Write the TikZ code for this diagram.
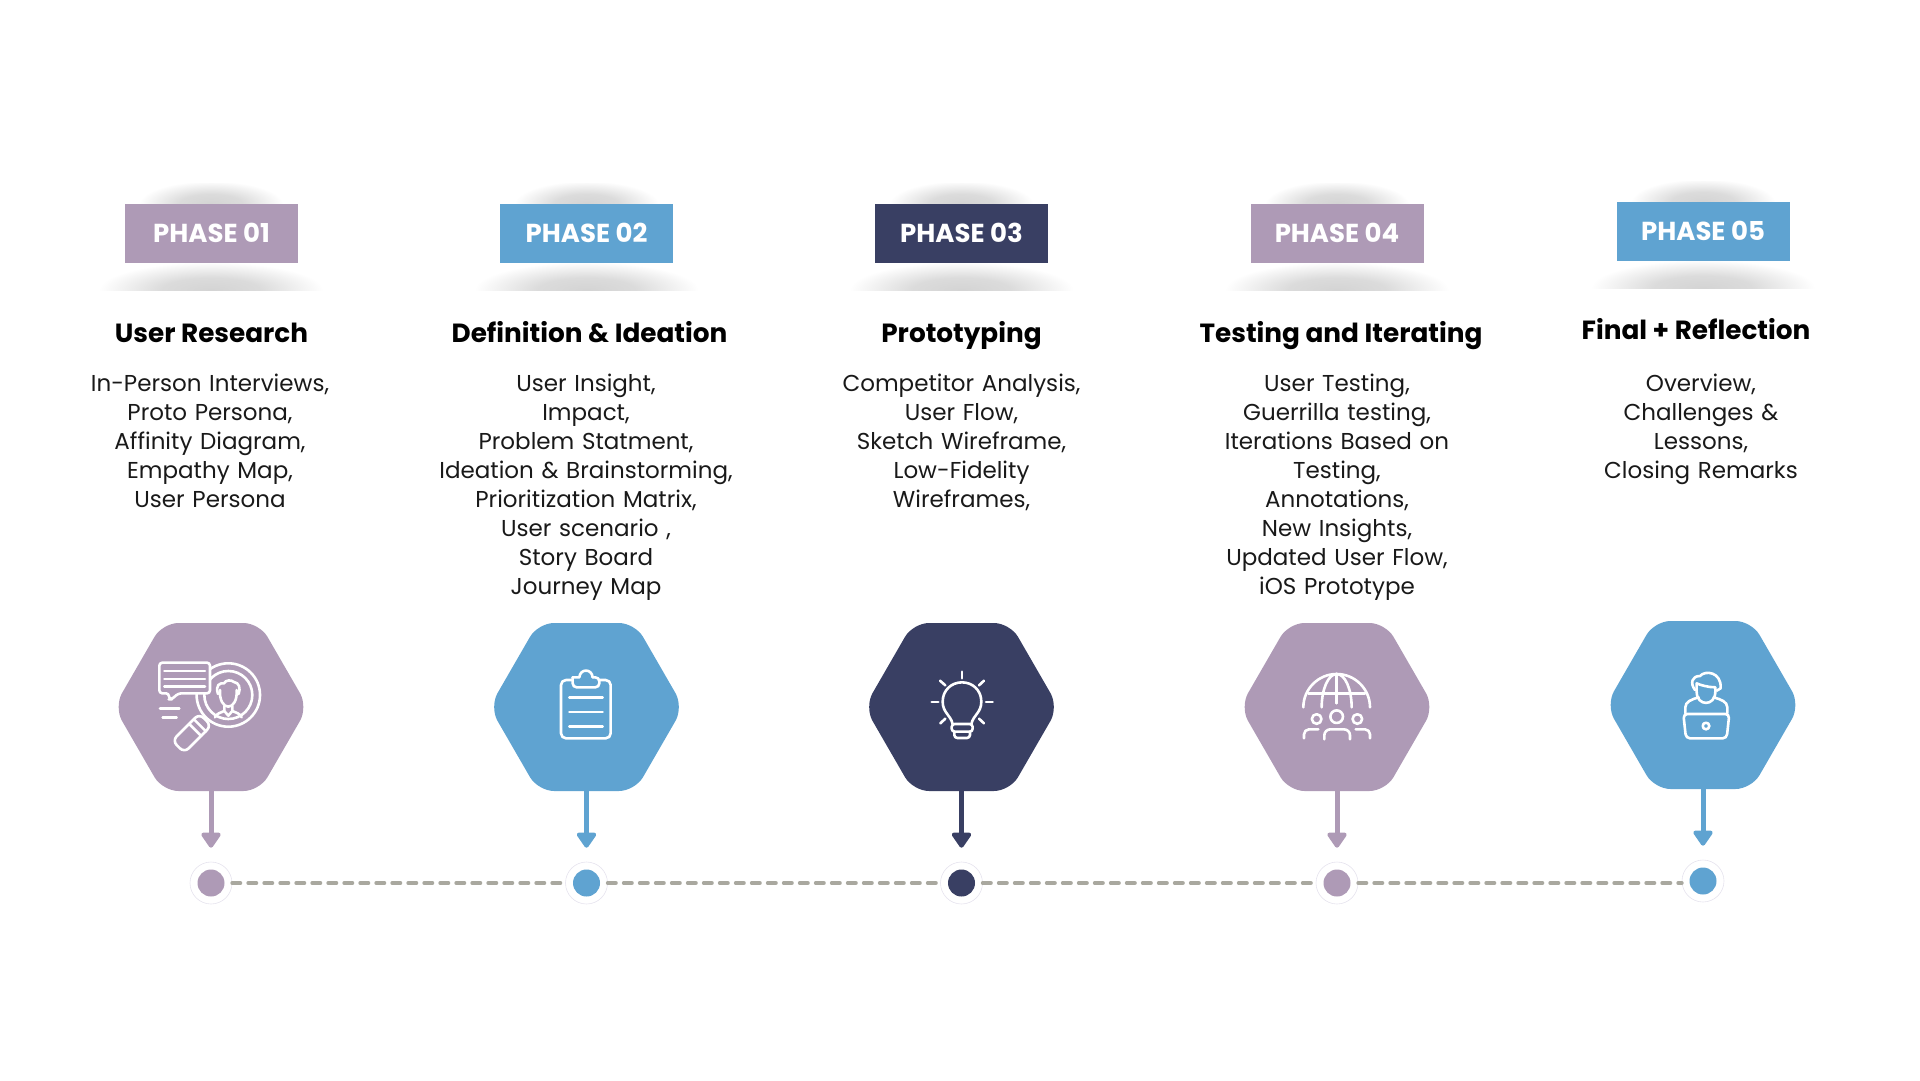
\documentclass[tikz,border=0pt]{standalone}
\usepackage{fontspec}
\setmainfont{Poppins}
\usetikzlibrary{positioning,arrows.meta,calc,shapes.geometric}
\definecolor{phPurple}{HTML}{AE9AB6}
\definecolor{phBlue}{HTML}{5FA3D1}
\definecolor{phNavy}{HTML}{393F63}
\definecolor{phDash}{HTML}{A9A89F}
\definecolor{phRing}{HTML}{E6E3EE}
\pgfdeclareradialshading{softshadow}{\pgfpointorigin}{color(0bp)=(black!17); color(11bp)=(black!14); color(25bp)=(white); color(50bp)=(white)}
\tikzset{
  badge/.style={
    fill=#1, minimum width=173pt, minimum height=59pt, inner sep=0pt, text=white,
    text height=18pt, text depth=0pt, font=\fontsize{26}{30}\selectfont\bfseries},
  titletxt/.style={anchor=base, font=\fontsize{26.3}{30}\selectfont\bfseries, text=black, inner sep=0pt},
  bodytxt/.style={
    anchor=north, text width=320pt, align=center, inner sep=0pt, text=black!90,
    font=\fontsize{23}{29}\selectfont},
  hexbox/.style={
    regular polygon, regular polygon sides=6, minimum size=194pt, inner sep=0pt, outer sep=0pt,
    fill=#1, rounded corners=16pt},
  ringdot/.style={circle, draw=phRing, line width=0.6pt, fill=white, minimum size=42pt, inner sep=0pt},
  dotcore/.style={circle, fill=#1, minimum size=27pt, inner sep=0pt},
  arrowlink/.style={
    draw=#1, line width=5pt, shorten >=14pt,
    -{Triangle[length=17pt, width=22pt, round]}},
  dashlink/.style={draw=phDash, line width=4pt, line cap=round, dash pattern=on 8pt off 8pt},
  iconline/.style={draw=white, line width=2.6pt, line cap=round, line join=round, x=0.3333pt, y=-0.3333pt},
}

\begin{document}
\begin{tikzpicture}[x=1pt, y=-1pt]

\useasboundingbox (0,0) rectangle (1920,1080);

% soft shadows round the badges
\foreach \x/\y in {211/233,586.5/233,961.5/233,1337/233,1703/231} {
  \begin{scope}
    \clip (\x-130,\y-50) rectangle (\x+130,\y);
    \shade[shading=softshadow] (\x,\y-29) ellipse[x radius=72, y radius=23];
  \end{scope}
  \begin{scope}
    \clip (\x-130,\y) rectangle (\x+130,\y+57);
    \shade[shading=softshadow] (\x,\y+57) ellipse[x radius=112, y radius=28];
  \end{scope}
}

\node[badge=phPurple] (B1) at (211.5,233.5) {PHASE 01};
\node[badge=phBlue] (B2) at (586.5,233.5) {PHASE 02};
\node[badge=phNavy] (B3) at (961.5,233.5) {PHASE 03};
\node[badge=phPurple] (B4) at (1337,233.5) {PHASE 04};
\node[badge=phBlue] (B5) at (1703,231) {PHASE 05};

\node[titletxt] (T1) at (211.5,342.5) {User Research};
\node[titletxt] (T2) at (589.5,342.5) {Definition \& Ideation};
\node[titletxt] (T3) at (961.5,342.5) {Prototyping};
\node[titletxt] (T4) at (1341,342.5) {Testing and Iterating};
\node[titletxt] (T5) at (1696,339.5) {Final + Reflection};

\node[bodytxt] (L1) at (210,374) {In-Person Interviews,\\ Proto Persona,\\ Affinity Diagram,\\ Empathy Map,\\ User Persona};
\node[bodytxt] (L2) at (586,374) {User Insight,\\ Impact,\\ Problem Statment,\\ Ideation \& Brainstorming,\\ Prioritization Matrix,\\ User scenario ,\\ Story Board\\ Journey Map};
\node[bodytxt] (L3) at (961.5,374) {Competitor Analysis,\\ User Flow,\\ Sketch Wireframe,\\ Low-Fidelity\\ Wireframes,};
\node[bodytxt] (L4) at (1337,374) {User Testing,\\ Guerrilla testing,\\ Iterations Based on\\ Testing,\\ Annotations,\\ New Insights,\\ Updated User Flow,\\ iOS Prototype};
\node[bodytxt] (L5) at (1701,374) {Overview,\\ Challenges \&\\ Lessons,\\ Closing Remarks};

\node[hexbox=phPurple] (H1) at (211,707) {};
\node[hexbox=phBlue] (H2) at (586.5,707) {};
\node[hexbox=phNavy] (H3) at (961.5,707) {};
\node[hexbox=phPurple] (H4) at (1337,707) {};
\node[hexbox=phBlue] (H5) at (1703,705) {};

\node[ringdot] (R1) at (211,883) {};
\node[ringdot] (R2) at (586.5,883) {};
\node[ringdot] (R3) at (961.5,883) {};
\node[ringdot] (R4) at (1337,883) {};
\node[ringdot] (R5) at (1703,881) {};
\node[dotcore=phPurple] (D1) at (R1) {};
\node[dotcore=phBlue] (D2) at (R2) {};
\node[dotcore=phNavy] (D3) at (R3) {};
\node[dotcore=phPurple] (D4) at (R4) {};
\node[dotcore=phBlue] (D5) at (R5) {};

\foreach \n/\c in {1/phPurple,2/phBlue,3/phNavy,4/phPurple,5/phBlue} {
  \draw[arrowlink=\c] (H\n.south) -- (R\n.north);
}
\foreach \a/\b in {1/2,2/3,3/4} {
  \draw[dashlink] (R\a) -- (R\b);
}
\draw[dashlink] (R4.east) -- (R4.east -| R5.west);

% magnifier
\begin{scope}[shift={(100,610)}, iconline]
  \draw[rounded corners=6pt] (298,311) -- (334,347) -- (253,428) -- (217,392) -- cycle;
  \draw (268,342) -- (304,378) (282,328) -- (318,364);
  \draw (385,255) circle[radius=31.7pt];
  \draw (385,255) circle[radius=24pt];
  \draw[fill=phPurple, rounded corners=3pt] (178,158) -- (330,158) -- (330,250) -- (235,250) -- (215,268) -- (207,268) -- (207,250) -- (178,250) -- cycle;
  \draw (193,183) -- (315,183) (193,207) -- (315,207) (193,230) -- (315,230);
  \draw (180,296) -- (238,296) (188,322) -- (230,322);
  \draw (360,240) .. controls (358,270) and (370,290) .. (385,290) .. controls (400,290) and (412,270) .. (410,240);
  \draw (354,252) .. controls (345,225) and (360,218) .. (372,220) .. controls (378,208) and (395,210) .. (402,216) .. controls (418,218) and (422,235) .. (416,252);
  \draw (345,322) .. controls (350,310) and (362,308) .. (373,303) -- (373,288) (373,303) -- (385,317) -- (397,303) -- (397,288) (397,303) .. controls (408,308) and (420,310) .. (425,322);
\end{scope}

% clipboard
\begin{scope}[shift={(530,650)}, iconline]
  \draw[rounded corners=5pt] (128,90) -- (93,90) -- (93,265) -- (242,265) -- (242,90) -- (208,90);
  \draw[rounded corners=4pt] (128,82) -- (128,112) -- (208,112) -- (208,82) -- (188,82);
  \draw (128,82) -- (148,82) .. controls (150,55) and (186,55) .. (188,82);
  \draw (118,143) -- (218,143) (118,186) -- (218,186) (118,229) -- (218,229);
\end{scope}

% bulb
\begin{scope}[shift={(910,650)}, iconline]
  \draw (128,222) .. controls (122,195) and (98,188) .. (98,155) .. controls (98,120) and (125,97) .. (156,97) .. controls (187,97) and (214,120) .. (214,155) .. controls (214,188) and (190,195) .. (184,222);
  \draw[rounded corners=3pt] (125,222) rectangle (188,245);
  \draw[rounded corners=3pt] (133,245) -- (133,264) -- (180,264) -- (180,245);
  \draw (156,65) -- (156,85) (65,156) -- (85,156) (228,156) -- (248,156);
  \draw (90,92) -- (106,106) (222,92) -- (207,106) (91,220) -- (106,206) (222,220) -- (207,206);
\end{scope}

% globe and people
\begin{scope}[shift={(1280,650)}, iconline]
  \draw (70,172) .. controls (70,117) and (115,72) .. (170,72) .. controls (225,72) and (270,117) .. (270,172);
  \draw (125,172) .. controls (125,117) and (145,72) .. (170,72) .. controls (195,72) and (215,117) .. (215,172);
  \draw (170,72) -- (170,160) (85,130) -- (255,130);
  \draw (170,200) circle[radius=6.3pt] (110,207) circle[radius=4.8pt] (232,207) circle[radius=4.8pt];
  \draw[rounded corners=6pt] (133,268) -- (133,238) -- (210,238) -- (210,268);
  \draw[rounded corners=5pt] (72,265) -- (72,238) -- (115,238);
  \draw[rounded corners=5pt] (270,265) -- (270,238) -- (227,238);
\end{scope}

% person at laptop
\begin{scope}[shift={(1650,650)}, iconline]
  \draw (135,120) .. controls (120,100) and (125,78) .. (150,78) .. controls (165,60) and (215,65) .. (212,115) -- (200,122);
  \draw (140,100) -- (140,125) .. controls (140,170) and (196,170) .. (196,125) -- (196,112) .. controls (175,112) and (150,105) .. (140,100);
  \draw (106,190) -- (106,172) .. controls (106,155) and (125,148) .. (146,142);
  \draw (232,190) -- (232,172) .. controls (232,155) and (212,148) .. (191,142);
  \draw[rounded corners=4pt] (100,192) -- (238,192) -- (230,265) -- (108,265) -- cycle;
  \draw (168,228) circle[radius=3.3pt];
\end{scope}

\end{tikzpicture}
\end{document}
